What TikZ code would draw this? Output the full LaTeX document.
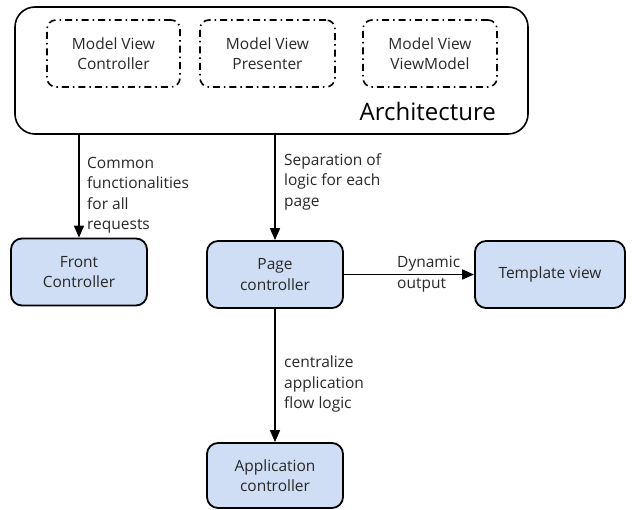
\documentclass[tikz,border=0pt]{standalone}
\usepackage{fontspec}
\setmainfont{Open Sans}
\usetikzlibrary{arrows.meta}
\definecolor{boxblue}{RGB}{207,222,245}
\definecolor{txt}{RGB}{40,40,40}
\tikzset{
  bluebox/.style={draw=black, line width=1.8pt, fill=boxblue, rounded corners=11pt, align=center, font=\fontsize{15.5}{20.5}\selectfont, text=txt, inner sep=0pt},
  dashbox/.style={draw=black, line width=1.6pt, dash pattern=on 7pt off 4pt on 1.5pt off 4pt, rounded corners=9pt, align=center, font=\fontsize{15.5}{20.5}\selectfont, text=txt, inner sep=0pt, minimum height=67pt},
  archbox/.style={draw=black, line width=1.6pt, rounded corners=20pt, inner sep=0pt},
  conn/.style={line width=1.6pt, -{Triangle[length=12pt,width=10pt]}},
  lbl/.style={align=left, font=\fontsize{15.5}{20.5}\selectfont, text=txt, inner sep=0pt}
}
\begin{document}
\begin{tikzpicture}[x=1pt,y=-1pt]
\useasboundingbox (0,0) rectangle (642,510);
\node[archbox, minimum width=513pt, minimum height=127pt] (arch) at (271.5,70.5) {};
\node[dashbox, minimum width=133pt] (mvc) at (113.5,53.5) {Model View\\Controller};
\node[dashbox, minimum width=135pt] (mvp) at (267.5,53.5) {Model View\\Presenter};
\node[dashbox, minimum width=134pt] (mvvm) at (430,53.5) {Model View\\ViewModel};
\node[anchor=base east, font=\fontsize{24}{28}\selectfont, text=black, inner sep=0pt] (archlbl) at (496,121) {Architecture};

\node[bluebox, minimum width=136pt, minimum height=67pt] (front) at (79,272) {Front\\Controller};
\node[bluebox, minimum width=136pt, minimum height=67pt] (page) at (275,274.5) {Page\\controller};
\node[bluebox, minimum width=150pt, minimum height=67pt] (tmpl) at (550,274.5) {Template view};
\node[bluebox, minimum width=136pt, minimum height=65pt] (app) at (275,475.5) {Application\\controller};

\draw[conn] (arch.south -| front.north) -- (front.north);
\draw[conn] (arch.south -| page.north) -- (page.north);
\draw[conn] (page.east) -- (tmpl.west);
\draw[conn] (page.south) -- (app.north);

\node[lbl, anchor=north west] (l1) at (87,157) {Common\\functionalities\\for all\\requests};
\node[lbl, anchor=north west] (l2) at (284,153) {Separation of\\logic for each\\page};
\node[lbl, anchor=north west] (l3) at (397,256) {Dynamic\\output};
\node[lbl, anchor=north west] (l4) at (284,356) {centralize\\application\\flow logic};
\end{tikzpicture}
\end{document}
